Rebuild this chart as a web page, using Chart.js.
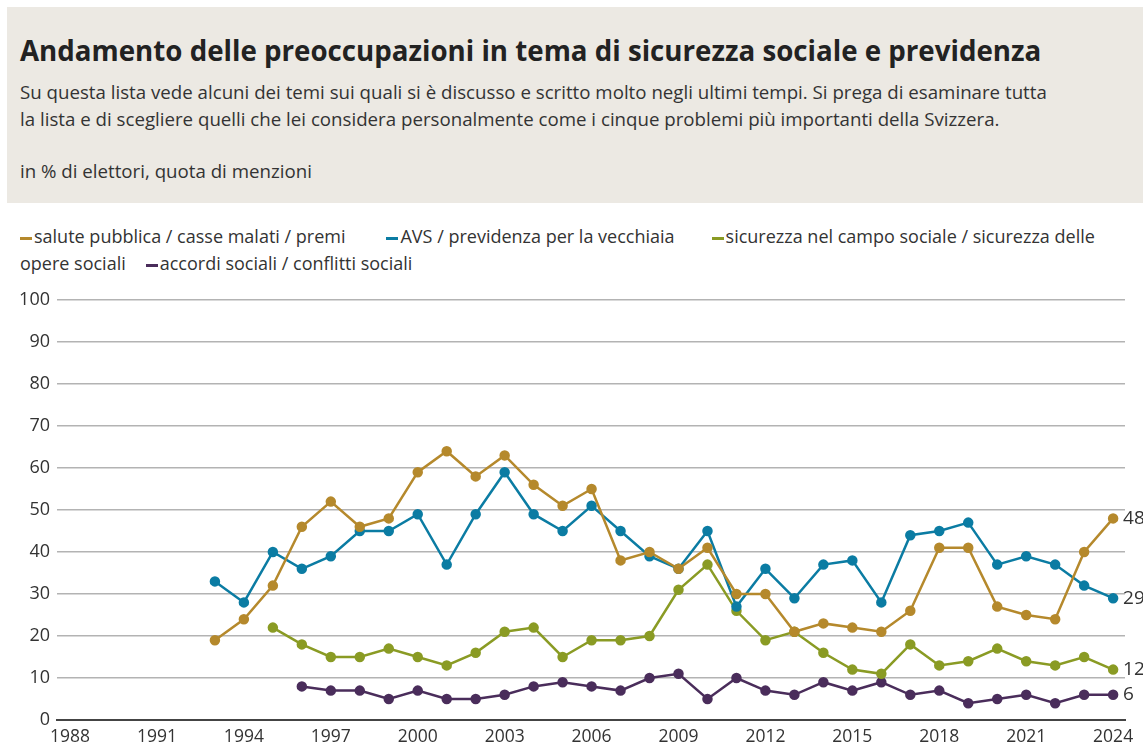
<!DOCTYPE html>
<html>
<head>
<meta charset="utf-8">
<script src="https://cdn.jsdelivr.net/npm/chart.js@4"></script>
<style>
  body { margin: 0; width: 1143px; height: 751px; background: #fff; font-family: "Open Sans", sans-serif; color: #333; position: relative; overflow: hidden; }
  #head { position: absolute; left: 7px; top: 7px; width: 1136px; height: 196px; background: #ece9e3; }
  #head h1 { position: absolute; left: 13px; top: 24px; margin: 0; font-size: 27.7px; font-weight: 700; color: #222; white-space: nowrap; }
  #head .sub { position: absolute; left: 13px; top: 71px; margin: 0; font-size: 18.7px; line-height: 27px; color: #333; white-space: nowrap; }
  #head .unit { position: absolute; left: 13px; top: 151px; margin: 0; font-size: 18.7px; color: #333; }
  #legend { position: absolute; left: 20px; top: 223px; width: 1100px; font-size: 18px; line-height: 27px; color: #333; }
  #legend i { display: inline-block; width: 12px; height: 3px; vertical-align: middle; margin-right: 2px; }
  #wrap { position: absolute; left: 0; top: 280px; width: 1143px; height: 471px; }
</style>
</head>
<body>
<div id="head">
  <h1>Andamento delle preoccupazioni in tema di sicurezza sociale e previdenza</h1>
  <p class="sub">Su questa lista vede alcuni dei temi sui quali si è discusso e scritto molto negli ultimi tempi. Si prega di esaminare tutta<br>la lista e di scegliere quelli che lei considera personalmente come i cinque problemi più importanti della Svizzera.</p>
  <p class="unit">in % di elettori, quota di menzioni</p>
</div>
<div id="legend"></div>
<div id="wrap"><canvas id="chart"></canvas></div>
<script>
const years = [1993, 1994, 1995, 1996, 1997, 1998, 1999, 2000, 2001, 2002, 2003, 2004, 2005, 2006, 2007, 2008,
  2009, 2010, 2011, 2012, 2013, 2014, 2015, 2016, 2017, 2018, 2019, 2020, 2021, 2022, 2023, 2024];
const xTicks = [1988, 1991, 1994, 1997, 2000, 2003, 2006, 2009, 2012, 2015, 2018, 2021, 2024];

// values per year, null where the series has no survey yet
const salute = [19, 24, 32, 46, 52, 46, 48, 59, 64, 58, 63, 56, 51, 55, 38, 40,
  36, 41, 30, 30, 21, 23, 22, 21, 26, 41, 41, 27, 25, 24, 40, 48];
const avs = [33, 28, 40, 36, 39, 45, 45, 49, 37, 49, 59, 49, 45, 51, 45, 39,
  36, 45, 27, 36, 29, 37, 38, 28, 44, 45, 47, 37, 39, 37, 32, 29];
const sicurezza = [null, null, 22, 18, 15, 15, 17, 15, 13, 16, 21, 22, 15, 19, 19, 20,
  31, 37, 26, 19, 21, 16, 12, 11, 18, 13, 14, 17, 14, 13, 15, 12];
const accordi = [null, null, null, 8, 7, 7, 5, 7, 5, 5, 6, 8, 9, 8, 7, 10,
  11, 5, 10, 7, 6, 9, 7, 9, 6, 7, 4, 5, 6, 4, 6, 6];

const series = [
  { label: 'salute pubblica / casse malati / premi', data: salute, color: '#b5892c' },
  { label: 'AVS / previdenza per la vecchiaia', data: avs, color: '#0b7ca3' },
  { label: 'sicurezza nel campo sociale / sicurezza delle opere sociali', data: sicurezza, color: '#8a9b24' },
  { label: 'accordi sociali / conflitti sociali', data: accordi, color: '#4a2d5b' }
];
// gap after each legend entry, as in the original layout
const legendGaps = [41, 37, 20, 0];

const legendDiv = document.getElementById('legend');
series.forEach((s, i) => {
  const item = document.createElement('span');
  item.style.marginRight = legendGaps[i] + 'px';
  item.innerHTML = `<i style="background:${s.color}"></i>${s.label}`;
  legendDiv.appendChild(item);
});

const datasets = series.map(s => ({
  label: s.label,
  data: years.map((y, i) => ({ x: y, y: s.data[i] })),
  borderColor: s.color,
  backgroundColor: s.color,
  borderWidth: 2.5,
  pointRadius: 4,
  pointHoverRadius: 4,
  tension: 0,
  spanGaps: false
}));

// last value written right of each line
const endLabels = {
  id: 'endLabels',
  afterDatasetsDraw(chart) {
    const ctx = chart.ctx;
    ctx.save();
    ctx.font = '19px "Open Sans"';
    ctx.fillStyle = '#333';
    ctx.textBaseline = 'middle';
    chart.data.datasets.forEach((ds, i) => {
      const pts = chart.getDatasetMeta(i).data;
      const last = pts[pts.length - 1];
      const v = ds.data[ds.data.length - 1].y;
      ctx.fillText(String(v), last.x + 10, last.y);
    });
    ctx.restore();
  }
};

new Chart(document.getElementById('chart'), {
  type: 'line',
  data: { datasets },
  options: {
    responsive: true,
    maintainAspectRatio: false,
    animation: false,
    layout: { padding: { top: 20, right: 18, left: 0, bottom: 0 } },
    plugins: { legend: { display: false }, tooltip: { enabled: false } },
    scales: {
      x: {
        type: 'linear',
        min: 1987.55,
        max: 2024.41,
        afterBuildTicks: axis => { axis.ticks = xTicks.map(v => ({ value: v })); },
        afterFit: axis => { axis.height = 31; },
        grid: { display: false, drawTicks: false },
        border: { display: true, color: '#444', width: 2 },
        ticks: { color: '#333', font: { family: 'Open Sans', size: 17.5 }, padding: 7, maxRotation: 0, autoSkip: false, callback: v => String(v) }
      },
      y: {
        min: 0,
        max: 100,
        afterFit: axis => { axis.width = 57; },
        ticks: { stepSize: 10, color: '#333', font: { family: 'Open Sans', size: 18 }, padding: 7 },
        grid: { color: '#b3b3b3', lineWidth: 1.5, drawTicks: false },
        border: { display: false }
      }
    }
  },
  plugins: [endLabels]
});
</script>
</body>
</html>
